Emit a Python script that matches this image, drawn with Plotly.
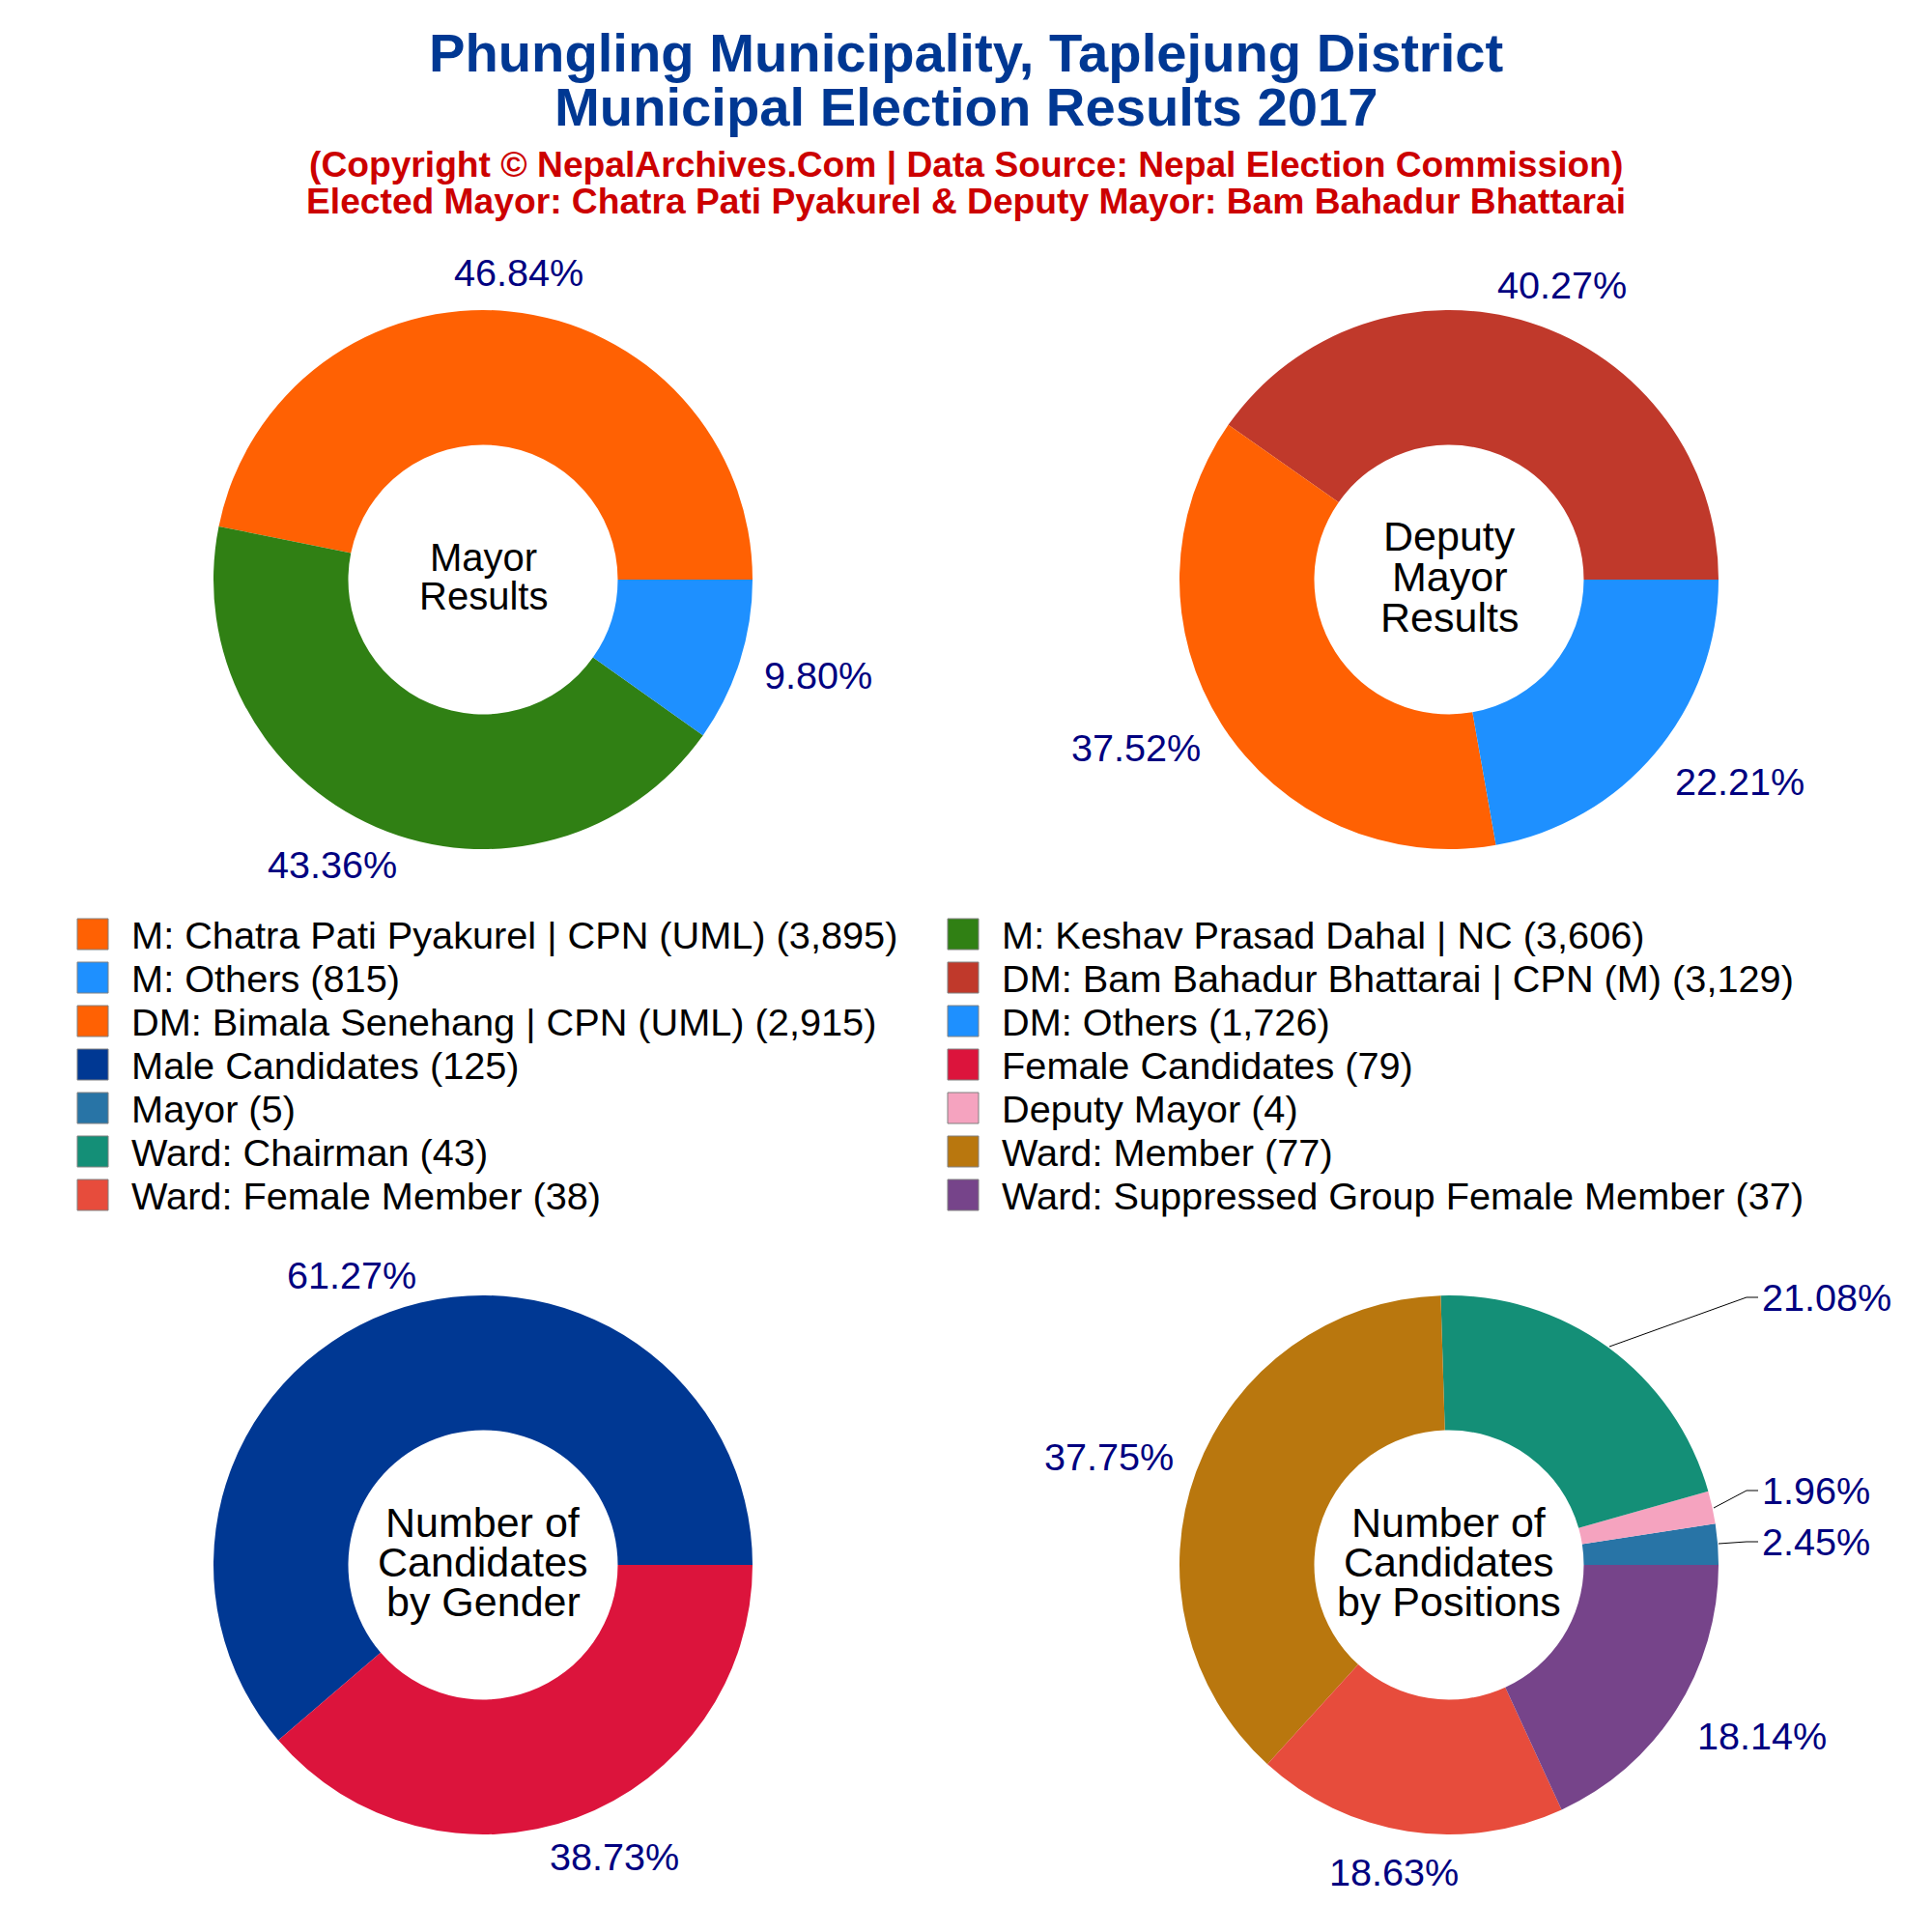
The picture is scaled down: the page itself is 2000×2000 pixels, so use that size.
#  Plotly
import plotly.graph_objects as go

#  Chart values
mayor_labels    = ['M: Chatra Pati Pyakurel | CPN (UML)', 'M: Keshav Prasad Dahal | NC', 'M: Others']
mayor_values    = [3895, 3606, 815]
mayor_colors    = ['#FF6103', '#308014', '#1E90FF']

deputy_labels   = ['DM: Bam Bahadur Bhattarai | CPN (M)', 'DM: Bimala Senehang | CPN (UML)', 'DM: Others']
deputy_values   = [3129, 2915, 1726]
deputy_colors   = ['#C0392B', '#FF6103', '#1E90FF']

gender_labels   = ['Male Candidates', 'Female Candidates']
gender_values   = [125, 79]
gender_colors   = ['#003893', '#DC143C']

position_labels = ['Mayor', 'Deputy Mayor', 'Ward: Chairman', 'Ward: Member',
                   'Ward: Female Member', 'Ward: Suppressed Group Female Member']
position_values = [5, 4, 43, 77, 38, 37]
position_colors = ['#2874A6', '#F5A3BF', '#148F77', '#B9770E', '#E74C3C', '#76448A']

#  Legend reading order, left column then right column on each row
legend_order = [ ( mayor_labels[0],    mayor_values[0],    mayor_colors[0] ),
                 ( mayor_labels[1],    mayor_values[1],    mayor_colors[1] ),
                 ( mayor_labels[2],    mayor_values[2],    mayor_colors[2] ),
                 ( deputy_labels[0],   deputy_values[0],   deputy_colors[0] ),
                 ( deputy_labels[1],   deputy_values[1],   deputy_colors[1] ),
                 ( deputy_labels[2],   deputy_values[2],   deputy_colors[2] ),
                 ( gender_labels[0],   gender_values[0],   gender_colors[0] ),
                 ( gender_labels[1],   gender_values[1],   gender_colors[1] ),
                 ( position_labels[0], position_values[0], position_colors[0] ),
                 ( position_labels[1], position_values[1], position_colors[1] ),
                 ( position_labels[2], position_values[2], position_colors[2] ),
                 ( position_labels[3], position_values[3], position_colors[3] ),
                 ( position_labels[4], position_values[4], position_colors[4] ),
                 ( position_labels[5], position_values[5], position_colors[5] ) ]

title_lines    = ['Phungling Municipality, Taplejung District', 'Municipal Election Results 2017']
subtitle_lines = ['(Copyright © NepalArchives.Com | Data Source: Nepal Election Commission)',
                  'Elected Mayor: Chatra Pati Pyakurel & Deputy Mayor: Bam Bahadur Bhattarai']

#  Where the percent labels sit on the page, slice by slice
mayor_spots    = [ (537, 282), (344, 895), (847, 699) ]
deputy_spots   = [ (1617, 295), (1176, 774), (1801, 809) ]
gender_spots   = [ (364, 1320), (636, 1922) ]
position_spots = [ (1880, 1596), (1880, 1543), (1891, 1343), (1148, 1508), (1443, 1938), (1824, 1797) ]

#  Leader lines of the three scooted labels on the positions pie
leader_paths = [ [ (1779, 1598), (1808, 1596), (1820, 1596) ],
                 [ (1774, 1561), (1808, 1543), (1820, 1543) ],
                 [ (1666, 1394), (1808, 1343), (1820, 1343) ] ]

SIZE   = 2000
FONT   = 'Liberation Sans'
RADIUS = 279
PAGE   = 8    # the page's own margin, taken off every pixel position below


def page_x( x ):
    return ( x - PAGE ) / SIZE


def page_y( y ):
    return 1 - ( y - PAGE ) / SIZE


def add_pie( fig, labels, values, colors, cx, cy, spots ):

    #  Counterclockwise pies in Plotly end at the rotation angle, so the first
    #  slice has to be wound back to begin at 3 o'clock
    rotation = 90 - 360 * values[0] / sum(values)

    fig.add_trace( go.Pie( labels = labels,
                           values = values,
                           hole   = 0.5,
                           sort   = False,
                           direction = 'counterclockwise',
                           rotation  = rotation,
                           showlegend = False,
                           textinfo  = 'none',
                           marker    = dict( colors = colors, line = dict( width = 0 ) ),
                           domain    = dict( x = [ page_x( cx - RADIUS ), page_x( cx + RADIUS ) ],
                                             y = [ page_y( cy + RADIUS ), page_y( cy - RADIUS ) ] ) ) )

    #  Plotly would place outside labels elsewhere, so they are set by hand
    for value, ( x, y ) in zip( values, spots ):
        fig.add_annotation( x = page_x( x ), y = page_y( y ), xref = 'paper', yref = 'paper',
                            text = f'{value / sum(values):.2%}', showarrow = False,
                            xanchor = 'center', yanchor = 'middle',
                            font = dict( family = FONT, size = 39.6, color = '#000080' ) )


def add_lines( fig, lines, cx, cy, spacing, size, color = 'black', bold = False ):

    #  Plotly's own line spacing is too wide here, so each line gets an annotation
    for i, line in enumerate( lines ):
        y = cy + ( i - ( len(lines) - 1 ) / 2 ) * spacing
        text = '<b>' + line + '</b>' if bold else line
        fig.add_annotation( x = page_x( cx ), y = page_y( y ), xref = 'paper', yref = 'paper',
                            text = text, showarrow = False, xanchor = 'center', yanchor = 'middle',
                            font = dict( family = FONT, size = size, color = color ) )


fig = go.Figure()

add_pie( fig, mayor_labels,    mayor_values,    mayor_colors,     500,  600, mayor_spots )
add_pie( fig, deputy_labels,   deputy_values,   deputy_colors,   1500,  600, deputy_spots )
add_pie( fig, gender_labels,   gender_values,   gender_colors,    500, 1620, gender_spots )
add_pie( fig, position_labels, position_values, position_colors, 1500, 1620, position_spots )

for path in leader_paths:
    svg = 'M ' + ' L '.join( f'{page_x( x )} {page_y( y )}' for x, y in path )
    fig.add_shape( type = 'path', path = svg, xref = 'paper', yref = 'paper',
                   line = dict( color = 'black', width = 1 ) )

#  Legend drawn on a hidden axis: x counts columns, y counts rows
columns = [ i % 2  for i in range( len(legend_order) ) ]
rows    = [ i // 2 for i in range( len(legend_order) ) ]
names   = [ f'{name} ({value:,})' for name, value, _ in legend_order ]

fig.add_trace( go.Scatter( x = columns, y = rows, mode = 'markers', showlegend = False, hoverinfo = 'skip',
                           marker = dict( symbol = 'square', size = 32,
                                          color = [ c for _, _, c in legend_order ],
                                          line = dict( color = '#808080', width = 1 ) ) ) )

fig.add_trace( go.Scatter( x = [ c + 0.0445 for c in columns ], y = [ r + 0.11 for r in rows ], mode = 'text',
                           showlegend = False, hoverinfo = 'skip', text = names, textposition = 'middle right',
                           textfont = dict( family = FONT, size = 39.7, color = 'black' ) ) )

add_lines( fig, title_lines,    1000,  83, 56, 56.2, '#003893', True )
add_lines( fig, subtitle_lines, 1000, 189, 37, 37.2, '#CC0000', True )

add_lines( fig, ['Mayor', 'Results'],                        500,  597, 40, 40 )
add_lines( fig, ['Deputy', 'Mayor', 'Results'],             1500,  597, 42, 43 )
add_lines( fig, ['Number of', 'Candidates', 'by Gender'],    500, 1617, 41, 43 )
add_lines( fig, ['Number of', 'Candidates', 'by Positions'], 1500, 1617, 41, 43 )

fig.update_layout( width = SIZE, height = SIZE,
                   margin = dict( l = 0, r = 0, t = 0, b = 0 ),
                   paper_bgcolor = 'white', plot_bgcolor = 'white',
                   font = dict( family = FONT ),
                   xaxis = dict( visible = False, domain = [0, 1],
                                 range = [ -(96 - PAGE) / 901, (SIZE - 96 + PAGE) / 901 ] ),
                   yaxis = dict( visible = False,
                                 domain = [ 1 - (1259.5 - PAGE) / SIZE, 1 - (944.5 - PAGE) / SIZE ],
                                 range = [ 6.5, -0.5 ] ) )

fig.write_html( 'out.html' )
